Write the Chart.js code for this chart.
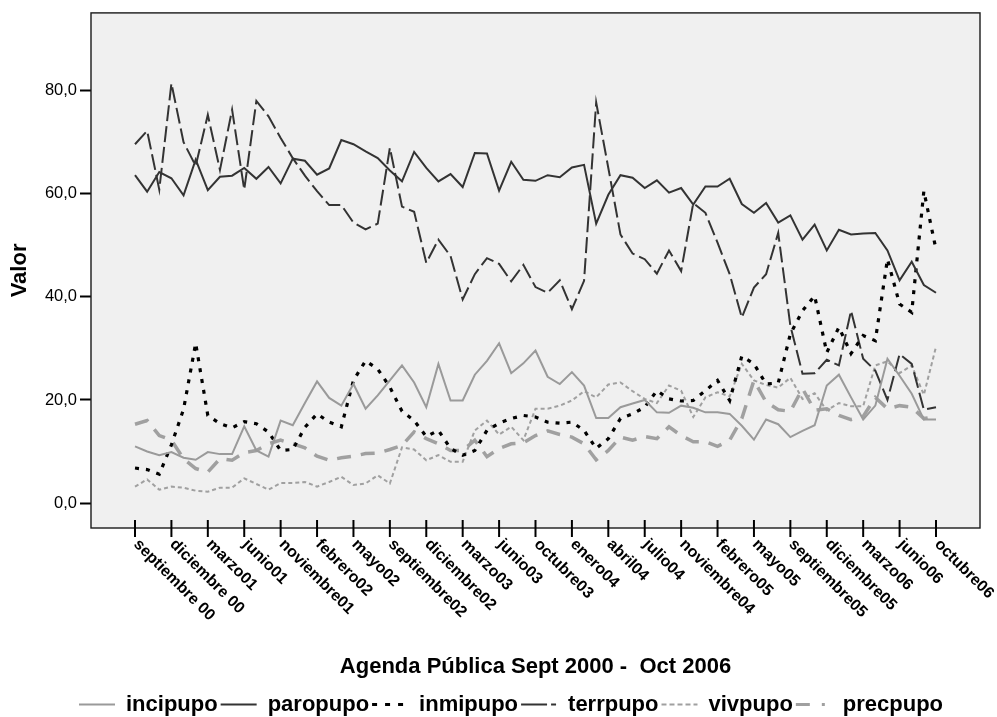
<!DOCTYPE html>
<html><head><meta charset="utf-8">
<script src="https://cdn.jsdelivr.net/npm/chart.js@4.4.1/dist/chart.umd.min.js"></script>
<style>html,body{margin:0;padding:0;background:#fff;}canvas{display:block;}</style>
</head><body>
<canvas id="c" width="997" height="717"></canvas>
<script>
const categories = [
 'septiembre 00','octubre 00','noviembre 00','diciembre 00','enero01','febrero01','marzo01','abril01','mayo01','junio01',
 'septiembre01','octubre01','noviembre01','diciembre01','enero02','febrero02','marzo02','abril02','mayo02','junio02','julio02',
 'septiembre02','octubre02','noviembre02','diciembre02','enero03','febrero03','marzo03','abril03','mayo03','junio03','julio03',
 'septiembre03','octubre03','noviembre03','diciembre03','enero04','febrero04','marzo04','abril04','mayo04','junio04','julio04',
 'septiembre04','octubre04','noviembre04','diciembre04','enero05','febrero05','marzo05','abril05','mayo05','junio05','julio05',
 'septiembre05','octubre05','noviembre05','diciembre05','enero06','febrero06','marzo06','abril06','mayo06','junio06','julio06',
 'septiembre06','octubre06'
];
const tickEvery = 3;
const yTicks = [0, 20, 40, 60, 80];
const seriesNames = ['incipupo','paropupo','inmipupo','terrpupo','vivpupo','precpupo'];
const xTitle = 'Agenda Pública Sept 2000 -  Oct 2006';
const yTitle = 'Valor';

const incipupo = [11.0,10.0,9.3,9.9,8.8,8.4,9.9,9.5,9.5,14.9,10.2,9.0,16.0,15.1,19.4,23.6,20.4,18.9,23.1,18.3,20.9,23.8,26.7,
 23.4,18.6,27.0,19.9,19.9,24.9,27.6,31.0,25.2,27.1,29.6,24.5,23.1,25.4,22.8,16.5,16.5,18.6,19.3,20.0,17.6,17.5,18.9,
 18.5,17.6,17.6,17.3,15.0,12.3,16.2,15.3,12.8,14.0,15.1,22.8,24.9,20.5,16.2,18.9,28.0,24.7,21.2,16.2,16.2];
const paropupo = [63.6,60.4,64.2,63.0,59.7,66.6,60.7,63.3,63.5,65.0,62.9,65.2,62.0,66.8,66.4,63.7,64.9,70.4,69.6,68.2,66.9,64.5,62.4,
 68.1,65.0,62.4,63.8,61.3,67.9,67.8,60.6,66.2,62.7,62.5,63.6,63.2,65.1,65.6,54.2,59.8,63.6,63.1,61.1,62.6,60.2,61.1,
 57.9,61.4,61.4,62.9,58.0,56.3,58.2,54.4,55.8,51.1,54.0,49.0,53.0,52.1,52.3,52.4,49.0,43.2,46.8,42.3,40.8];
const inmipupo = [6.8,6.5,5.6,11.3,18.2,31.0,17.0,15.4,14.6,15.8,15.4,13.8,10.2,10.4,14.7,17.3,15.7,14.8,23.8,27.6,26.0,22.5,17.8,
 16.0,12.9,14.1,10.6,9.3,10.2,14.1,15.5,16.4,17.0,16.7,15.7,15.5,15.7,14.1,10.6,12.5,16.4,17.3,18.6,21.8,20.2,19.8,
 19.9,21.8,23.8,19.9,28.5,27.0,23.1,23.3,32.8,37.3,40.2,29.2,34.1,29.0,32.5,31.5,47.3,38.6,37.0,60.5,49.2];
const terrpupo = [69.6,72.2,60.8,81.4,70.0,65.4,75.3,64.6,76.3,60.8,78.0,75.0,70.8,66.9,63.5,60.5,57.8,57.8,54.4,53.1,54.2,68.9,57.5,
 56.5,46.6,51.1,47.9,39.5,44.4,47.5,46.4,43.0,46.2,41.9,40.8,43.2,37.6,43.1,77.7,65.0,52.1,48.4,47.3,44.5,49.0,45.0,
 58.2,56.3,50.5,44.4,36.0,41.8,44.4,52.4,34.4,25.1,25.2,27.8,26.7,37.3,28.0,25.7,20.0,28.9,27.0,18.1,18.6];
const vivpupo = [3.2,4.6,2.6,3.2,3.0,2.4,2.2,3.0,3.0,4.8,3.7,2.6,3.9,3.9,4.1,3.2,4.1,5.1,3.5,3.8,5.4,3.8,10.8,
 10.4,8.3,9.3,8.0,8.0,14.1,16.0,13.3,14.8,12.2,18.3,18.3,18.9,19.9,21.7,20.5,23.0,23.4,21.7,20.2,19.4,22.8,21.8,
 16.7,20.5,21.5,20.7,27.0,23.8,22.9,22.4,24.3,20.2,21.3,18.0,19.4,18.8,18.8,26.7,27.5,25.2,26.7,21.0,30.3];
const precpupo = [15.3,16.0,13.1,12.2,8.6,6.7,6.0,8.6,8.3,9.8,10.2,11.5,12.2,11.5,10.7,9.1,8.3,8.8,9.1,9.6,9.7,10.4,11.2,
 13.8,12.5,11.5,10.2,10.2,12.2,9.0,10.6,11.5,11.7,13.1,14.0,13.3,12.8,11.5,8.4,10.2,12.8,12.2,12.9,12.5,14.8,13.1,
 11.9,11.9,11.0,12.2,16.4,23.8,19.6,18.1,17.8,22.2,18.0,18.3,17.0,16.2,16.8,20.5,18.3,18.9,18.6,16.4,16.8];

const FONT = "'Liberation Sans', Arial, Helvetica, sans-serif";
const LIGHT = '#9a9a9a', DARK = '#333333';

function pts(arr){ return arr.map((v, i) => ({x: i, y: v})); }
function ds(label, arr, color, width, dash, legendDash){
  return {label, data: pts(arr), borderColor: color, backgroundColor: color, borderWidth: width,
    borderDash: dash, legendDash: legendDash || dash, pointRadius: 0, pointHoverRadius: 0, pointStyle: 'line',
    tension: 0, fill: false};
}

const framePlugin = {
  id: 'frame',
  afterLayout(chart){
    const lg = chart.legend;
    if (lg && lg.lineWidths) {
      const p = lg.options.labels.padding;
      const start = (lg.left + p + lg.right - lg.lineWidths[0]) / 2;
      const dx = 79 - start;
      lg.left += dx; lg.right += dx;
      const dy = 690.5 - lg.top;
      lg.top += dy; lg.bottom += dy;
    }
  },
  beforeDraw(chart){
    const {ctx, chartArea: a} = chart;
    ctx.save();
    ctx.fillStyle = '#f0f0f0';
    ctx.fillRect(a.left, a.top, a.right - a.left, a.bottom - a.top);
    ctx.restore();
  },
  afterDraw(chart){
    const {ctx, chartArea: a} = chart;
    const xs = chart.scales.x;
    ctx.save();
    ctx.strokeStyle = '#1a1a1a';
    ctx.lineWidth = 1.4;
    ctx.strokeRect(a.left, a.top, a.right - a.left, a.bottom - a.top);
    ctx.strokeStyle = '#000';
    ctx.lineWidth = 2;
    ctx.fillStyle = '#000';
    ctx.font = 'bold 16px ' + FONT;
    ctx.textAlign = 'left';
    ctx.textBaseline = 'middle';
    for (let i = 0; i < categories.length; i += tickEvery) {
      const x = xs.getPixelForValue(i);
      ctx.beginPath();
      ctx.moveTo(x, a.bottom - 8);
      ctx.lineTo(x, a.bottom + 9);
      ctx.stroke();
      ctx.save();
      ctx.translate(x + 1, a.bottom + 14);
      ctx.rotate(Math.PI / 4);
      ctx.fillText(categories[i], 0, 0);
      ctx.restore();
    }
    ctx.restore();
  }
};

new Chart(document.getElementById('c'), {
  type: 'line',
  data: {
    datasets: [
      ds(seriesNames[0], incipupo, LIGHT, 2, []),
      ds(seriesNames[1], paropupo, DARK, 2, []),
      ds(seriesNames[2], inmipupo, '#000000', 3.2, [4, 7], [5, 8]),
      ds(seriesNames[3], terrpupo, DARK, 2, [16, 5], [26, 4, 5, 4]),
      ds(seriesNames[4], vivpupo, '#a0a0a0', 2, [4, 3], [5, 3]),
      ds(seriesNames[5], precpupo, '#a0a0a0', 3.5, [14, 10], [14, 12, 3, 10])
    ]
  },
  options: {
    responsive: false,
    animation: false,
    devicePixelRatio: 1,
    layout: {padding: {top: 11, right: 17, bottom: 0, left: 0}},
    plugins: {
      legend: {
        display: true,
        position: 'bottom',
        labels: {
          usePointStyle: true,
          pointStyleWidth: 36,
          boxWidth: 36,
          padding: 3,
          color: '#000',
          font: {family: FONT, size: 22, weight: 'bold'},
          generateLabels(chart){
            const items = Chart.defaults.plugins.legend.labels.generateLabels(chart);
            items.forEach(it => {
              const d = chart.data.datasets[it.datasetIndex];
              it.lineDash = d.legendDash;
              it.lineWidth = Math.min(d.borderWidth, 3);
              it.strokeStyle = d.borderColor;
              it.fillStyle = d.borderColor;
              it.pointStyle = 'line';
            });
            return items;
          }
        }
      },
      tooltip: {enabled: false},
      title: {display: false}
    },
    scales: {
      x: {
        type: 'linear',
        min: -3.626,
        max: 69.626,
        grid: {display: false},
        border: {display: false},
        ticks: {display: false},
        title: {display: true, text: xTitle, color: '#000',
          font: {family: FONT, size: 22, weight: 'bold'}, padding: {top: 0, bottom: 2}},
        afterFit: s => { s.height = 154; }
      },
      y: {
        type: 'linear',
        min: -4.83,
        max: 95.07,
        afterBuildTicks: s => { s.ticks = yTicks.map(v => ({value: v})); },
        grid: {display: true, drawOnChartArea: false, drawTicks: true, tickLength: 11, tickWidth: 2, color: '#000'},
        border: {display: false},
        ticks: {color: '#000', padding: 3, font: {family: FONT, size: 16.5},
          callback: v => v.toFixed(1).replace('.', ',')},
        title: {display: true, text: yTitle, color: '#000',
          font: {family: FONT, size: 22, weight: 'bold'}, padding: {top: 7, bottom: 0}},
        afterFit: s => { s.width = 91; }
      }
    }
  },
  plugins: [framePlugin]
});
</script>
</body></html>
